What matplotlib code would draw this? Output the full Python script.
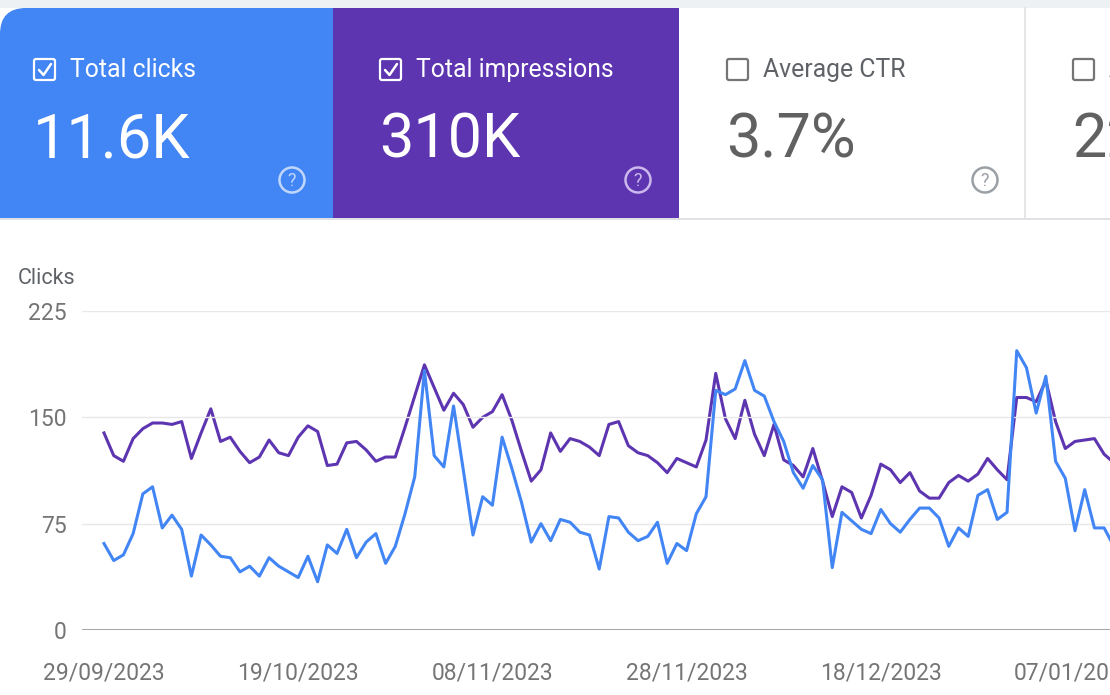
import numpy as np
import pandas as pd
import matplotlib
matplotlib.use("Agg")
import matplotlib.pyplot as plt
import matplotlib.dates as mdates
from matplotlib.patches import Rectangle, FancyBboxPatch, Circle

plt.rcParams['font.family'] = ['Roboto', 'DejaVu Sans']

# --- data (one point per day from 29/09/2023) ---
start_date = "2023-09-29"
clicks = [61, 49, 53, 68, 96, 101, 72, 81, 71, 38,
          67, 60, 52, 51, 41, 45, 38, 51, 45, 41,
          37, 52, 34, 60, 54, 71, 51, 62, 68, 47,
          59, 82, 108, 183, 123, 115, 158, 113, 67, 94,
          88, 136, 114, 90, 62, 75, 63, 78, 76, 69,
          67, 43, 80, 79, 69, 63, 66, 76, 47, 61,
          56, 82, 94, 169, 166, 170, 190, 169, 165, 147,
          133, 111, 100, 116, 106, 44, 83, 77, 71, 68,
          85, 75, 69, 78, 86, 86, 79, 59, 72, 66,
          95, 99, 78, 83, 197, 185, 153, 179, 119, 107,
          70, 99, 72, 72, 59]
impressions = [2780, 2460, 2380, 2700, 2840, 2920, 2920, 2900, 2940, 2420,
               2780, 3120, 2660, 2720, 2520, 2360, 2440, 2680, 2500, 2460,
               2720, 2880, 2800, 2320, 2340, 2640, 2660, 2540, 2380, 2440,
               2440, 2860, 3300, 3740, 3420, 3100, 3340, 3180, 2860, 3000,
               3080, 3320, 2960, 2520, 2100, 2260, 2780, 2520, 2700, 2660,
               2580, 2460, 2900, 2940, 2600, 2500, 2460, 2360, 2220, 2420,
               2360, 2300, 2680, 3620, 2980, 2700, 3240, 2760, 2460, 2900,
               2400, 2320, 2160, 2560, 2100, 1600, 2020, 1940, 1580, 1900,
               2340, 2260, 2080, 2220, 1960, 1860, 1860, 2080, 2180, 2100,
               2200, 2420, 2260, 2120, 3280, 3280, 3220, 3520, 2940, 2560,
               2660, 2680, 2700, 2480, 2360]
tick_dates = ["2023-09-29", "2023-10-19", "2023-11-08", "2023-11-28",
              "2023-12-18", "2024-01-07"]
y_ticks = [0, 75, 150, 225]

card_titles = ["Total clicks", "Total impressions", "Average CTR", "Average position"]
card_values = ["11.6K", "310K", "3.7%", "22.1"]

BLUE = "#4285f4"
PURPLE = "#5e35b1"
GREY_TXT = "#5f6368"

dates = pd.date_range(start_date, periods=len(clicks), freq="D")

W, H = 1110, 695
fig = plt.figure(figsize=(W / 100, H / 100), dpi=100)
fig.patch.set_facecolor("white")

# overlay in pixel coordinates for the metric cards
ov = fig.add_axes([0, 0, 1, 1])
ov.set_xlim(0, W)
ov.set_ylim(H, 0)
ov.axis("off")

ov.add_patch(Rectangle((0, 0), W, 8, color="#eef1f4", lw=0))
ov.add_patch(FancyBboxPatch((0, 8), 380, 260, boxstyle="round,pad=0,rounding_size=26",
                            color=BLUE, lw=0))
ov.add_patch(Rectangle((333, 8), 346, 210, color=PURPLE, lw=0))
ov.add_patch(Rectangle((0, 218), 700, 60, color="white", lw=0))
ov.plot([0, W], [218.5, 218.5], color="#dadce0", lw=1.2)
ov.plot([1024.5, 1024.5], [8, 218], color="#e0e0e0", lw=1.2)

card_x = [33, 379, 726, 1072]
fg = ["white", "white", GREY_TXT, GREY_TXT]
checked = [True, True, False, False]
help_x = [292, 638, 985, None]
help_col = ["#c0d6fb", "#cbb8ec", "#9aa0a6", None]
for i in range(4):
    x0 = card_x[i]
    box_col = "white" if checked[i] else "#757575"
    ov.add_patch(FancyBboxPatch((x0 + 1, 59), 21, 21, boxstyle="round,pad=0,rounding_size=2",
                                fill=False, ec=box_col, lw=1.6))
    if checked[i]:
        ov.plot([x0 + 6, x0 + 10.5, x0 + 18], [70, 75, 64], color="white", lw=1.8,
                solid_capstyle="round", solid_joinstyle="round")
    ov.text(x0 + 37, 70, card_titles[i], color=fg[i], fontsize=17.8, va="center", ha="left")
    val_col = "white" if checked[i] else "#616161"
    ov.text(x0 + 0, 158, card_values[i], color=val_col, fontsize=44, va="baseline", ha="left")
    if help_x[i] is not None:
        ov.add_patch(Circle((help_x[i], 180), 12.5, fill=False, ec=help_col[i], lw=1.8))
        ov.text(help_x[i], 181, "?", color=help_col[i], fontsize=13, ha="center", va="center")

ov.text(18, 279, "Clicks", color=GREY_TXT, fontsize=15.5, va="center", ha="left")

# --- chart axes: spans past the right edge like the cropped screenshot ---
px_day = 9.71
x_left, x_first, x_right = 82, 104, 1230
y_zero, y_top = 630, 311
ax = fig.add_axes([x_left / W, (H - y_zero) / H, (x_right - x_left) / W, (y_zero - y_top) / H])
ax.set_facecolor("none")
d0 = mdates.date2num(dates[0])
ax.set_xlim(d0 - (x_first - x_left) / px_day, d0 + (x_right - x_first) / px_day)
ax.set_ylim(0, 225)

ax2 = ax.twinx()
ax2.set_ylim(0, 4500)
ax2.plot(dates, impressions, color=PURPLE, lw=2.2, solid_joinstyle="round")
ax2.set_yticks([])
ax2.set_zorder(1)
ax.set_zorder(2)
ax.patch.set_visible(False)

ax.plot(dates, clicks, color=BLUE, lw=2.2, solid_joinstyle="round")

ax.set_yticks(y_ticks)
ax.grid(axis="y", color="#e8e8e8", lw=1)
ax.axhline(0, color="#9e9e9e", lw=1.3)
ax.set_xticks([mdates.date2num(pd.Timestamp(d)) for d in tick_dates])
ax.xaxis.set_major_formatter(mdates.DateFormatter("%d/%m/%Y"))
ax.tick_params(axis="both", length=0, colors="#757575", labelsize=16.5)
ax.tick_params(axis="y", pad=11)
ax.tick_params(axis="x", pad=23)
for a in (ax, ax2):
    for s in a.spines.values():
        s.set_visible(False)

fig.savefig("out.png", dpi=100)
